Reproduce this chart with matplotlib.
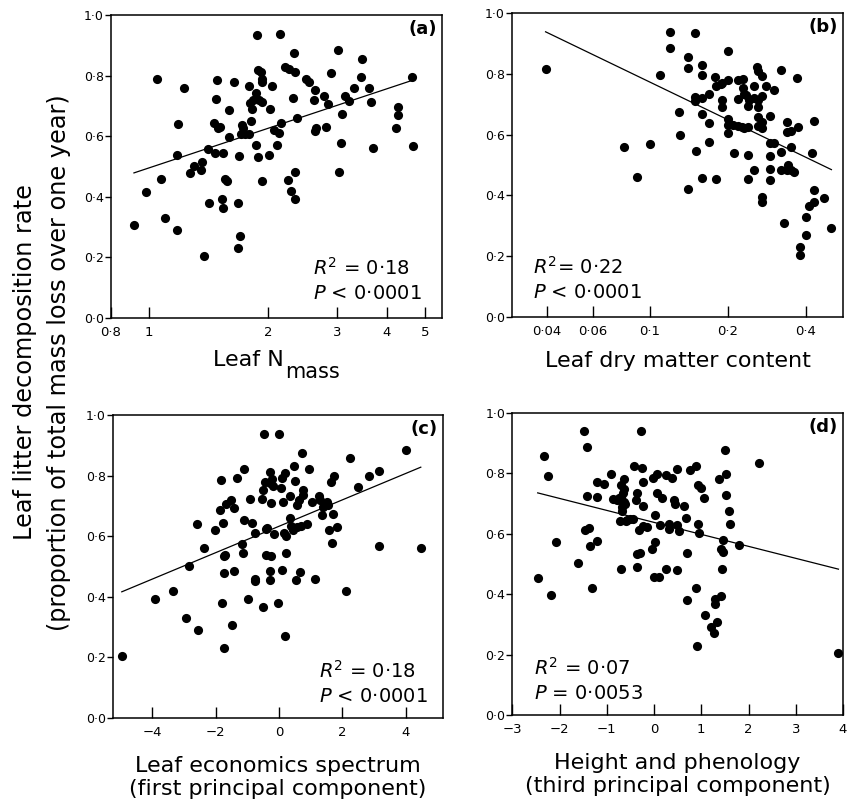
import numpy as np
import matplotlib
matplotlib.use("Agg")
import matplotlib.pyplot as plt
from matplotlib import ticker

# ---- data ----
# (a) leaf N mass vs decomposition
nmass = [0.916, 0.984, 1.050, 1.073, 1.098, 1.176, 1.178, 1.185, 1.223, 1.269,
         1.297, 1.356, 1.364, 1.380, 1.413, 1.416, 1.464, 1.472, 1.478, 1.486,
         1.492, 1.513, 1.528, 1.539, 1.539, 1.557, 1.573, 1.598, 1.598, 1.642,
         1.678, 1.678, 1.691, 1.701, 1.718, 1.731, 1.708, 1.748, 1.789, 1.789,
         1.797, 1.811, 1.825, 1.836, 1.861, 1.865, 1.872, 1.887, 1.887, 1.894,
         1.924, 1.928, 1.928, 1.928, 1.935, 2.012, 2.020, 2.044, 2.068, 2.113,
         2.130, 2.150, 2.163, 2.210, 2.249, 2.267, 2.294, 2.311, 2.325, 2.339,
         2.339, 2.348, 2.376, 2.494, 2.543, 2.634, 2.624, 2.639, 2.650, 2.772,
         2.799, 2.843, 2.883, 3.002, 3.026, 3.062, 3.080, 3.129, 3.216, 3.311,
         3.436, 3.463, 3.601, 3.644, 3.701, 4.227, 4.260, 4.276, 4.642, 4.651]
decomp_a = [0.307, 0.416, 0.788, 0.459, 0.330, 0.291, 0.537, 0.640, 0.760, 0.477,
            0.502, 0.487, 0.516, 0.203, 0.558, 0.378, 0.643, 0.544, 0.723, 0.784,
            0.627, 0.631, 0.392, 0.543, 0.364, 0.458, 0.453, 0.687, 0.597, 0.779,
            0.380, 0.230, 0.533, 0.269, 0.638, 0.626, 0.608, 0.608, 0.608, 0.766,
            0.709, 0.649, 0.689, 0.718, 0.744, 0.571, 0.935, 0.819, 0.530, 0.720,
            0.813, 0.789, 0.778, 0.713, 0.453, 0.537, 0.689, 0.766, 0.619, 0.571,
            0.611, 0.936, 0.643, 0.827, 0.455, 0.821, 0.420, 0.727, 0.874, 0.812,
            0.481, 0.392, 0.660, 0.788, 0.778, 0.752, 0.720, 0.618, 0.626, 0.733,
            0.631, 0.707, 0.807, 0.884, 0.482, 0.578, 0.674, 0.733, 0.715, 0.760,
            0.796, 0.856, 0.760, 0.714, 0.562, 0.627, 0.670, 0.695, 0.796, 0.569]

# (b) leaf dry matter content vs decomposition
ldmc = [0.0395, 0.0795, 0.0894, 0.0997, 0.1096, 0.1197, 0.1197, 0.1296, 0.1300, 0.1396,
        0.1396, 0.1400, 0.1494, 0.1494, 0.1498, 0.1502, 0.1585, 0.1589, 0.1589, 0.1589,
        0.1594, 0.1690, 0.1690, 0.1690, 0.1788, 0.1793, 0.1798, 0.1885, 0.1891, 0.1891,
        0.1902, 0.1994, 0.2006, 0.2006, 0.2006, 0.2006, 0.2090, 0.2109, 0.2178, 0.2185,
        0.2191, 0.2270, 0.2291, 0.2291, 0.2298, 0.2305, 0.2352, 0.2387, 0.2394, 0.2394,
        0.2401, 0.2394, 0.2510, 0.2510, 0.2510, 0.2600, 0.2608, 0.2608, 0.2608, 0.2608,
        0.2616, 0.2702, 0.2702, 0.2702, 0.2710, 0.2702, 0.2710, 0.2807, 0.2909, 0.2900,
        0.2909, 0.2909, 0.2909, 0.3004, 0.3004, 0.3206, 0.3206, 0.3216, 0.3303, 0.3391,
        0.3391, 0.3411, 0.3391, 0.3492, 0.3513, 0.3513, 0.3607, 0.3705, 0.3715, 0.3804,
        0.3804, 0.4011, 0.4011, 0.4107, 0.4206, 0.4305, 0.4305, 0.4305, 0.4718, 0.5018]
decomp_b = [0.815, 0.560, 0.460, 0.570, 0.796, 0.938, 0.884, 0.674, 0.599, 0.856,
            0.820, 0.420, 0.725, 0.711, 0.935, 0.546, 0.829, 0.796, 0.721, 0.669,
            0.457, 0.733, 0.637, 0.577, 0.789, 0.455, 0.760, 0.765, 0.714, 0.690,
            0.769, 0.874, 0.780, 0.653, 0.632, 0.604, 0.633, 0.538, 0.629, 0.716,
            0.779, 0.626, 0.784, 0.753, 0.733, 0.622, 0.731, 0.626, 0.534, 0.454,
            0.714, 0.695, 0.760, 0.719, 0.482, 0.824, 0.808, 0.714, 0.692, 0.659,
            0.629, 0.793, 0.727, 0.640, 0.621, 0.396, 0.379, 0.760, 0.662, 0.574,
            0.531, 0.487, 0.452, 0.747, 0.574, 0.812, 0.544, 0.484, 0.308, 0.643,
            0.610, 0.500, 0.484, 0.612, 0.560, 0.484, 0.476, 0.785, 0.624, 0.231,
            0.203, 0.330, 0.269, 0.365, 0.538, 0.645, 0.418, 0.378, 0.392, 0.292]

# (c) leaf economics spectrum (PC1) vs decomposition
pc1 = [-4.963, -3.912, -3.354, -2.934, -2.839, -2.576, -2.555, -2.355, -2.019, -1.840,
       -1.861, -1.798, -1.756, -1.746, -1.735, -1.724, -1.714, -1.661, -1.504, -1.472,
       -1.420, -1.420, -1.335, -1.178, -1.125, -1.104, -1.094, -0.967, -0.915, -0.841,
       -0.768, -0.757, -0.747, -0.526, -0.515, -0.515, -0.463, -0.442, -0.410, -0.400,
       -0.368, -0.294, -0.284, -0.284, -0.284, -0.252, -0.252, -0.210, -0.179, -0.158,
       -0.042, 0.011, 0.074, 0.084, 0.105, 0.116, 0.158, 0.200, 0.210, 0.231,
       0.189, 0.336, 0.358, 0.368, 0.431, 0.473, 0.494, 0.526, 0.557, 0.578,
       0.631, 0.673, 0.683, 0.715, 0.747, 0.768, 0.883, 0.946, 1.052, 1.146,
       1.251, 1.290, 1.346, 1.399, 1.514, 1.556, 1.588, 1.640, 1.661, 1.703,
       1.746, 1.830, 2.103, 2.250, 2.482, 2.829, 3.144, 3.155, 4.017, 4.479]
decomp_c = [0.203, 0.393, 0.418, 0.330, 0.501, 0.641, 0.292, 0.560, 0.622, 0.786,
            0.687, 0.379, 0.644, 0.535, 0.231, 0.478, 0.538, 0.705, 0.718, 0.308,
            0.692, 0.485, 0.792, 0.575, 0.544, 0.652, 0.822, 0.393, 0.722, 0.645,
            0.610, 0.459, 0.453, 0.724, 0.753, 0.366, 0.936, 0.780, 0.623, 0.538,
            0.627, 0.813, 0.777, 0.484, 0.454, 0.536, 0.709, 0.790, 0.766, 0.607,
            0.381, 0.937, 0.760, 0.791, 0.489, 0.714, 0.610, 0.810, 0.600, 0.546,
            0.270, 0.659, 0.731, 0.634, 0.621, 0.832, 0.782, 0.455, 0.630, 0.703,
            0.718, 0.482, 0.632, 0.874, 0.736, 0.753, 0.640, 0.821, 0.714, 0.460,
            0.734, 0.720, 0.670, 0.695, 0.714, 0.703, 0.619, 0.780, 0.579, 0.674,
            0.797, 0.629, 0.420, 0.857, 0.763, 0.797, 0.815, 0.569, 0.885, 0.560]

# (d) height and phenology (PC3) vs decomposition
pc3 = [-2.463, -2.336, -2.244, -2.181, -2.082, -1.616, -1.482, -1.454, -1.426, -1.411,
       -1.383, -1.355, -1.313, -1.200, -1.200, -1.207, -1.059, -0.910, -0.861, -0.790,
       -0.748, -0.727, -0.706, -0.706, -0.692, -0.685, -0.677, -0.677, -0.656, -0.635,
       -0.635, -0.628, -0.614, -0.593, -0.565, -0.508, -0.452, -0.423, -0.381, -0.367,
       -0.367, -0.353, -0.318, -0.303, -0.268, -0.247, -0.240, -0.226, -0.226, -0.155,
       -0.035, -0.014, 0.000, 0.028, 0.014, 0.071, 0.071, 0.099, 0.127, 0.176,
       0.247, 0.247, 0.311, 0.325, 0.388, 0.416, 0.445, 0.480, 0.494, 0.494,
       0.529, 0.642, 0.670, 0.692, 0.692, 0.762, 0.889, 0.896, 0.903, 0.932,
       0.932, 0.960, 0.988, 1.052, 1.087, 1.200, 1.263, 1.284, 1.299, 1.341,
       1.369, 1.411, 1.426, 1.433, 1.454, 1.461, 1.510, 1.524, 1.531, 1.581,
       1.616, 1.807, 2.230, 3.903]
decomp_d = [0.453, 0.859, 0.791, 0.396, 0.573, 0.503, 0.940, 0.613, 0.724, 0.886,
            0.620, 0.560, 0.419, 0.770, 0.723, 0.577, 0.764, 0.797, 0.716, 0.711,
            0.720, 0.643, 0.762, 0.485, 0.722, 0.709, 0.689, 0.674, 0.735, 0.781,
            0.748, 0.706, 0.700, 0.643, 0.647, 0.649, 0.648, 0.825, 0.711, 0.735,
            0.491, 0.533, 0.612, 0.537, 0.939, 0.818, 0.771, 0.693, 0.627, 0.624,
            0.548, 0.786, 0.458, 0.573, 0.662, 0.799, 0.735, 0.458, 0.628, 0.719,
            0.794, 0.485, 0.617, 0.634, 0.785, 0.711, 0.698, 0.628, 0.480, 0.815,
            0.610, 0.691, 0.652, 0.538, 0.380, 0.810, 0.825, 0.422, 0.229, 0.763,
            0.631, 0.602, 0.752, 0.717, 0.332, 0.292, 0.270, 0.383, 0.369, 0.309,
            0.783, 0.395, 0.548, 0.483, 0.541, 0.579, 0.877, 0.799, 0.729, 0.674,
            0.634, 0.563, 0.834, 0.205]

plt.rcParams['font.family'] = 'DejaVu Sans'
plt.rcParams['mathtext.fontset'] = 'dejavusans'


def dot_fmt(v, pos=None):
    s = ('%g' % v) if abs(v) < 1 or v != int(v) else '%d' % v
    s = s.replace('.', '\u00b7').replace('-', '\u2212')
    return s


def yfmt(v, pos=None):
    return ('%.1f' % v).replace('.', '\u00b7')


fig = plt.figure(figsize=(8.55, 8.05), dpi=100)
axa = fig.add_axes([0.1295, 0.605, 0.3875, 0.3764])
axb = fig.add_axes([0.5988, 0.6062, 0.3871, 0.3776])
axc = fig.add_axes([0.1318, 0.1081, 0.3863, 0.3764])
axd = fig.add_axes([0.5992, 0.1118, 0.3868, 0.3752])

panels = [
    (axa, nmass, decomp_a, True, '(a)', '$R^2$ = 0\u00b718', '$P$ < 0\u00b70001', (0.61, 0.165)),
    (axb, ldmc, decomp_b, True, '(b)', '$R^2$= 0\u00b722', '$P$ < 0\u00b70001', (0.065, 0.165)),
    (axc, pc1, decomp_c, False, '(c)', '$R^2$ = 0\u00b718', '$P$ < 0\u00b70001', (0.625, 0.155)),
    (axd, pc3, decomp_d, False, '(d)', '$R^2$ = 0\u00b707', '$P$ = 0\u00b70053', (0.065, 0.155)),
]

for ax, x, y, logx, lab, rtxt, ptxt, pos in panels:
    x = np.asarray(x)
    y = np.asarray(y)
    ax.plot(x, y, 'o', color='black', markersize=6.6, markeredgewidth=0)
    # least squares line (on log scale for the log axes)
    xs = np.log10(x) if logx else x
    k, b = np.polyfit(xs, y, 1)
    xx = np.array([xs.min(), xs.max()])
    xl = 10 ** xx if logx else xx
    ax.plot(xl, k * xx + b, color='black', linewidth=0.9)
    if logx:
        ax.set_xscale('log')
        ax.xaxis.set_minor_locator(ticker.NullLocator())
    ax.set_ylim(0, 1.0)
    ax.yaxis.set_major_locator(ticker.MultipleLocator(0.2))
    ax.yaxis.set_major_formatter(ticker.FuncFormatter(yfmt))
    ax.tick_params(axis='y', direction='out', length=4, width=1, labelsize=9, pad=1)
    ax.tick_params(axis='x', direction='in', length=8, width=1, labelsize=9.5, pad=6)
    for sp in ax.spines.values():
        sp.set_linewidth(1.1)
    ax.text(0.985, 0.955, lab, transform=ax.transAxes, ha='right', va='center',
            fontsize=13, fontweight='bold')
    ax.text(pos[0], pos[1], rtxt, transform=ax.transAxes, ha='left', va='center', fontsize=14)
    ax.text(pos[0], pos[1] - 0.083, ptxt, transform=ax.transAxes, ha='left', va='center', fontsize=14)

axa.set_xlim(0.8, 5.52)
axa.xaxis.set_major_locator(ticker.FixedLocator([0.8, 1, 2, 3, 4, 5]))
axa.xaxis.set_major_formatter(ticker.FuncFormatter(dot_fmt))

axb.set_xlim(0.0293, 0.556)
axb.xaxis.set_major_locator(ticker.FixedLocator([0.04, 0.06, 0.1, 0.2, 0.4]))
axb.xaxis.set_major_formatter(ticker.FuncFormatter(dot_fmt))
axb.set_xlabel('Leaf dry matter content', fontsize=16, labelpad=9)

axc.set_xlim(-5.25, 5.18)
axc.xaxis.set_major_locator(ticker.FixedLocator([-4, -2, 0, 2, 4]))
axc.xaxis.set_major_formatter(ticker.FuncFormatter(dot_fmt))
axc.set_xlabel('Leaf economics spectrum\n(first principal component)', fontsize=16,
               labelpad=12, linespacing=1.2)

axd.set_xlim(-3, 4)
axd.xaxis.set_major_locator(ticker.FixedLocator([-3, -2, -1, 0, 1, 2, 3, 4]))
axd.xaxis.set_major_formatter(ticker.FuncFormatter(dot_fmt))
axd.set_xlabel('Height and phenology\n(third principal component)', fontsize=16,
               labelpad=12, linespacing=1.2)

# "Leaf N" with a full-size, lowered "mass" subscript, centred under panel (a)
W, H = fig.get_size_inches() * fig.dpi
t1 = fig.text(0, 0, 'Leaf N', fontsize=16, va='baseline')
t2 = fig.text(0, 0, 'mass', fontsize=15, va='baseline')
fig.canvas.draw()
r = fig.canvas.get_renderer()
w1 = t1.get_window_extent(r).width
w2 = t2.get_window_extent(r).width
bb = axa.get_position()
cx = (bb.x0 + bb.x1) / 2 * W
x0 = cx - (w1 + w2 + 1) / 2
t1.set_position((x0 / W, 1 - 366 / H))
t2.set_position(((x0 + w1 + 1) / W, 1 - 378 / H))

fig.text(0.029, 0.55, 'Leaf litter decomposition rate', rotation=90,
         ha='center', va='center', fontsize=17.3)
fig.text(0.069, 0.55, '(proportion of total mass loss over one year)', rotation=90,
         ha='center', va='center', fontsize=17.3)

fig.savefig('out.png', dpi=100)
